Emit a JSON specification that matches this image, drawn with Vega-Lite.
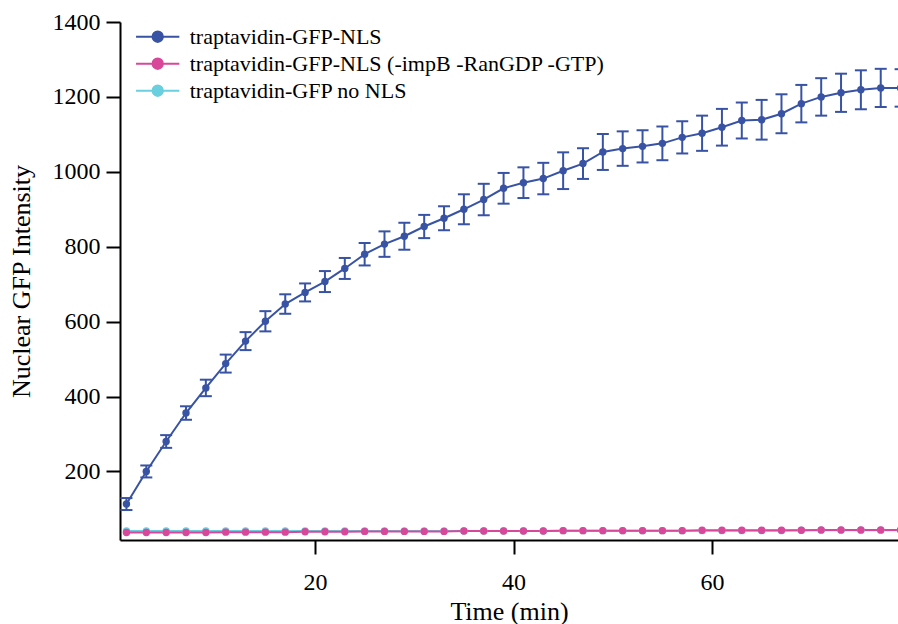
{
  "$schema": "https://vega.github.io/schema/vega-lite/v6.json",
  "autosize": {"type": "none"},
  "padding": {"left": 120, "top": 22, "right": 0, "bottom": 84},
  "width": 778,
  "height": 518,
  "background": "white",
  "config": {
    "font": "Liberation Serif",
    "view": {"stroke": null},
    "axis": {
      "grid": false,
      "domainColor": "#000000",
      "domainWidth": 2,
      "tickColor": "#000000",
      "tickWidth": 2,
      "tickSize": 14,
      "labelColor": "#000000",
      "labelFont": "Liberation Serif",
      "labelFontSize": 24,
      "titleColor": "#000000",
      "titleFont": "Liberation Serif",
      "titleFontSize": 26,
      "titleFontWeight": "normal"
    }
  },
  "data": {
    "values": [
      {"t": 1, "series": "traptavidin-GFP-NLS", "mean": 113, "lo": 97, "hi": 129},
      {"t": 3, "series": "traptavidin-GFP-NLS", "mean": 200, "lo": 184, "hi": 216},
      {"t": 5, "series": "traptavidin-GFP-NLS", "mean": 280, "lo": 263, "hi": 297},
      {"t": 7, "series": "traptavidin-GFP-NLS", "mean": 356, "lo": 338, "hi": 374},
      {"t": 9, "series": "traptavidin-GFP-NLS", "mean": 423, "lo": 401, "hi": 445},
      {"t": 11, "series": "traptavidin-GFP-NLS", "mean": 488, "lo": 464, "hi": 512},
      {"t": 13, "series": "traptavidin-GFP-NLS", "mean": 548, "lo": 524, "hi": 572},
      {"t": 15, "series": "traptavidin-GFP-NLS", "mean": 601, "lo": 574, "hi": 628},
      {"t": 17, "series": "traptavidin-GFP-NLS", "mean": 647, "lo": 621, "hi": 673},
      {"t": 19, "series": "traptavidin-GFP-NLS", "mean": 678, "lo": 654, "hi": 702},
      {"t": 21, "series": "traptavidin-GFP-NLS", "mean": 707, "lo": 679, "hi": 735},
      {"t": 23, "series": "traptavidin-GFP-NLS", "mean": 742, "lo": 714, "hi": 770},
      {"t": 25, "series": "traptavidin-GFP-NLS", "mean": 780, "lo": 750, "hi": 810},
      {"t": 27, "series": "traptavidin-GFP-NLS", "mean": 807, "lo": 773, "hi": 841},
      {"t": 29, "series": "traptavidin-GFP-NLS", "mean": 828, "lo": 792, "hi": 864},
      {"t": 31, "series": "traptavidin-GFP-NLS", "mean": 854, "lo": 823, "hi": 885},
      {"t": 33, "series": "traptavidin-GFP-NLS", "mean": 876, "lo": 844, "hi": 908},
      {"t": 35, "series": "traptavidin-GFP-NLS", "mean": 900, "lo": 860, "hi": 940},
      {"t": 37, "series": "traptavidin-GFP-NLS", "mean": 926, "lo": 884, "hi": 968},
      {"t": 39, "series": "traptavidin-GFP-NLS", "mean": 956, "lo": 915, "hi": 997},
      {"t": 41, "series": "traptavidin-GFP-NLS", "mean": 971, "lo": 930, "hi": 1012},
      {"t": 43, "series": "traptavidin-GFP-NLS", "mean": 982, "lo": 940, "hi": 1024},
      {"t": 45, "series": "traptavidin-GFP-NLS", "mean": 1003, "lo": 954, "hi": 1052},
      {"t": 47, "series": "traptavidin-GFP-NLS", "mean": 1022, "lo": 981, "hi": 1063},
      {"t": 49, "series": "traptavidin-GFP-NLS", "mean": 1053, "lo": 1005, "hi": 1101},
      {"t": 51, "series": "traptavidin-GFP-NLS", "mean": 1062, "lo": 1016, "hi": 1108},
      {"t": 53, "series": "traptavidin-GFP-NLS", "mean": 1068, "lo": 1025, "hi": 1111},
      {"t": 55, "series": "traptavidin-GFP-NLS", "mean": 1076, "lo": 1031, "hi": 1121},
      {"t": 57, "series": "traptavidin-GFP-NLS", "mean": 1092, "lo": 1049, "hi": 1135},
      {"t": 59, "series": "traptavidin-GFP-NLS", "mean": 1103, "lo": 1056, "hi": 1150},
      {"t": 61, "series": "traptavidin-GFP-NLS", "mean": 1119, "lo": 1070, "hi": 1168},
      {"t": 63, "series": "traptavidin-GFP-NLS", "mean": 1137, "lo": 1089, "hi": 1185},
      {"t": 65, "series": "traptavidin-GFP-NLS", "mean": 1139, "lo": 1086, "hi": 1192},
      {"t": 67, "series": "traptavidin-GFP-NLS", "mean": 1155, "lo": 1103, "hi": 1207},
      {"t": 69, "series": "traptavidin-GFP-NLS", "mean": 1182, "lo": 1132, "hi": 1232},
      {"t": 71, "series": "traptavidin-GFP-NLS", "mean": 1200, "lo": 1150, "hi": 1250},
      {"t": 73, "series": "traptavidin-GFP-NLS", "mean": 1211, "lo": 1160, "hi": 1262},
      {"t": 75, "series": "traptavidin-GFP-NLS", "mean": 1219, "lo": 1167, "hi": 1271},
      {"t": 77, "series": "traptavidin-GFP-NLS", "mean": 1224, "lo": 1173, "hi": 1275},
      {"t": 79, "series": "traptavidin-GFP-NLS", "mean": 1224, "lo": 1174, "hi": 1274},

      {"t": 1, "series": "traptavidin-GFP no NLS", "mean": 41},
      {"t": 3, "series": "traptavidin-GFP no NLS", "mean": 41},
      {"t": 5, "series": "traptavidin-GFP no NLS", "mean": 41},
      {"t": 7, "series": "traptavidin-GFP no NLS", "mean": 41},
      {"t": 9, "series": "traptavidin-GFP no NLS", "mean": 41},
      {"t": 11, "series": "traptavidin-GFP no NLS", "mean": 41},
      {"t": 13, "series": "traptavidin-GFP no NLS", "mean": 41},
      {"t": 15, "series": "traptavidin-GFP no NLS", "mean": 41},
      {"t": 17, "series": "traptavidin-GFP no NLS", "mean": 41},
      {"t": 19, "series": "traptavidin-GFP no NLS", "mean": 41},
      {"t": 21, "series": "traptavidin-GFP no NLS", "mean": 41},
      {"t": 23, "series": "traptavidin-GFP no NLS", "mean": 41},
      {"t": 25, "series": "traptavidin-GFP no NLS", "mean": 41},
      {"t": 27, "series": "traptavidin-GFP no NLS", "mean": 41},
      {"t": 29, "series": "traptavidin-GFP no NLS", "mean": 41},
      {"t": 31, "series": "traptavidin-GFP no NLS", "mean": 41},
      {"t": 33, "series": "traptavidin-GFP no NLS", "mean": 41},
      {"t": 35, "series": "traptavidin-GFP no NLS", "mean": 41},
      {"t": 37, "series": "traptavidin-GFP no NLS", "mean": 41},
      {"t": 39, "series": "traptavidin-GFP no NLS", "mean": 41},
      {"t": 41, "series": "traptavidin-GFP no NLS", "mean": 41},
      {"t": 43, "series": "traptavidin-GFP no NLS", "mean": 41},
      {"t": 45, "series": "traptavidin-GFP no NLS", "mean": 42},
      {"t": 47, "series": "traptavidin-GFP no NLS", "mean": 42},
      {"t": 49, "series": "traptavidin-GFP no NLS", "mean": 42},
      {"t": 51, "series": "traptavidin-GFP no NLS", "mean": 42},
      {"t": 53, "series": "traptavidin-GFP no NLS", "mean": 42},
      {"t": 55, "series": "traptavidin-GFP no NLS", "mean": 42},
      {"t": 57, "series": "traptavidin-GFP no NLS", "mean": 42},
      {"t": 59, "series": "traptavidin-GFP no NLS", "mean": 42},
      {"t": 61, "series": "traptavidin-GFP no NLS", "mean": 42},
      {"t": 63, "series": "traptavidin-GFP no NLS", "mean": 42},
      {"t": 65, "series": "traptavidin-GFP no NLS", "mean": 42},
      {"t": 67, "series": "traptavidin-GFP no NLS", "mean": 42},
      {"t": 69, "series": "traptavidin-GFP no NLS", "mean": 43},
      {"t": 71, "series": "traptavidin-GFP no NLS", "mean": 43},
      {"t": 73, "series": "traptavidin-GFP no NLS", "mean": 43},
      {"t": 75, "series": "traptavidin-GFP no NLS", "mean": 43},
      {"t": 77, "series": "traptavidin-GFP no NLS", "mean": 43},
      {"t": 79, "series": "traptavidin-GFP no NLS", "mean": 43},

      {"t": 1, "series": "traptavidin-GFP-NLS (-impB -RanGDP -GTP)", "mean": 37},
      {"t": 3, "series": "traptavidin-GFP-NLS (-impB -RanGDP -GTP)", "mean": 37},
      {"t": 5, "series": "traptavidin-GFP-NLS (-impB -RanGDP -GTP)", "mean": 37},
      {"t": 7, "series": "traptavidin-GFP-NLS (-impB -RanGDP -GTP)", "mean": 37},
      {"t": 9, "series": "traptavidin-GFP-NLS (-impB -RanGDP -GTP)", "mean": 37},
      {"t": 11, "series": "traptavidin-GFP-NLS (-impB -RanGDP -GTP)", "mean": 38},
      {"t": 13, "series": "traptavidin-GFP-NLS (-impB -RanGDP -GTP)", "mean": 38},
      {"t": 15, "series": "traptavidin-GFP-NLS (-impB -RanGDP -GTP)", "mean": 38},
      {"t": 17, "series": "traptavidin-GFP-NLS (-impB -RanGDP -GTP)", "mean": 38},
      {"t": 19, "series": "traptavidin-GFP-NLS (-impB -RanGDP -GTP)", "mean": 39},
      {"t": 21, "series": "traptavidin-GFP-NLS (-impB -RanGDP -GTP)", "mean": 39},
      {"t": 23, "series": "traptavidin-GFP-NLS (-impB -RanGDP -GTP)", "mean": 39},
      {"t": 25, "series": "traptavidin-GFP-NLS (-impB -RanGDP -GTP)", "mean": 40},
      {"t": 27, "series": "traptavidin-GFP-NLS (-impB -RanGDP -GTP)", "mean": 40},
      {"t": 29, "series": "traptavidin-GFP-NLS (-impB -RanGDP -GTP)", "mean": 40},
      {"t": 31, "series": "traptavidin-GFP-NLS (-impB -RanGDP -GTP)", "mean": 40},
      {"t": 33, "series": "traptavidin-GFP-NLS (-impB -RanGDP -GTP)", "mean": 40},
      {"t": 35, "series": "traptavidin-GFP-NLS (-impB -RanGDP -GTP)", "mean": 41},
      {"t": 37, "series": "traptavidin-GFP-NLS (-impB -RanGDP -GTP)", "mean": 41},
      {"t": 39, "series": "traptavidin-GFP-NLS (-impB -RanGDP -GTP)", "mean": 41},
      {"t": 41, "series": "traptavidin-GFP-NLS (-impB -RanGDP -GTP)", "mean": 41},
      {"t": 43, "series": "traptavidin-GFP-NLS (-impB -RanGDP -GTP)", "mean": 41},
      {"t": 45, "series": "traptavidin-GFP-NLS (-impB -RanGDP -GTP)", "mean": 42},
      {"t": 47, "series": "traptavidin-GFP-NLS (-impB -RanGDP -GTP)", "mean": 42},
      {"t": 49, "series": "traptavidin-GFP-NLS (-impB -RanGDP -GTP)", "mean": 42},
      {"t": 51, "series": "traptavidin-GFP-NLS (-impB -RanGDP -GTP)", "mean": 42},
      {"t": 53, "series": "traptavidin-GFP-NLS (-impB -RanGDP -GTP)", "mean": 42},
      {"t": 55, "series": "traptavidin-GFP-NLS (-impB -RanGDP -GTP)", "mean": 42},
      {"t": 57, "series": "traptavidin-GFP-NLS (-impB -RanGDP -GTP)", "mean": 42},
      {"t": 59, "series": "traptavidin-GFP-NLS (-impB -RanGDP -GTP)", "mean": 43},
      {"t": 61, "series": "traptavidin-GFP-NLS (-impB -RanGDP -GTP)", "mean": 43},
      {"t": 63, "series": "traptavidin-GFP-NLS (-impB -RanGDP -GTP)", "mean": 43},
      {"t": 65, "series": "traptavidin-GFP-NLS (-impB -RanGDP -GTP)", "mean": 43},
      {"t": 67, "series": "traptavidin-GFP-NLS (-impB -RanGDP -GTP)", "mean": 43},
      {"t": 69, "series": "traptavidin-GFP-NLS (-impB -RanGDP -GTP)", "mean": 43},
      {"t": 71, "series": "traptavidin-GFP-NLS (-impB -RanGDP -GTP)", "mean": 44},
      {"t": 73, "series": "traptavidin-GFP-NLS (-impB -RanGDP -GTP)", "mean": 44},
      {"t": 75, "series": "traptavidin-GFP-NLS (-impB -RanGDP -GTP)", "mean": 44},
      {"t": 77, "series": "traptavidin-GFP-NLS (-impB -RanGDP -GTP)", "mean": 44},
      {"t": 79, "series": "traptavidin-GFP-NLS (-impB -RanGDP -GTP)", "mean": 44}
    ]
  },
  "encoding": {
    "x": {
      "field": "t",
      "type": "quantitative",
      "title": "Time (min)",
      "scale": {"domain": [0.35, 78.74], "nice": false, "zero": false},
      "axis": {"values": [20, 40, 60], "format": "d", "labelFontSize": 24, "titleFontSize": 26, "labelPadding": 16, "titlePadding": 4}
    }
  },
  "layer": [
    {
      "transform": [{"filter": "datum.series === 'traptavidin-GFP-NLS'"}],
      "mark": {
        "type": "errorbar",
        "color": "#3953A4",
        "thickness": 2,
        "opacity": 1,
        "ticks": {"size": 12, "thickness": 2, "color": "#3953A4", "opacity": 1},
        "rule": {"strokeWidth": 2, "color": "#3953A4", "opacity": 1},
        "clip": true
      },
      "encoding": {
        "y": {"field": "lo", "type": "quantitative", "title": "Nuclear GFP Intensity"},
        "y2": {"field": "hi"}
      }
    },
    {
      "mark": {"type": "line", "strokeWidth": 2, "clip": true},
      "encoding": {
        "y": {
          "field": "mean",
          "type": "quantitative",
          "title": "Nuclear GFP Intensity",
          "scale": {"domain": [17, 1400], "nice": false, "zero": false},
          "axis": {"values": [200, 400, 600, 800, 1000, 1200, 1400], "format": "d", "labelFontSize": 24, "titleFontSize": 26, "labelPadding": 6, "titlePadding": 18}
        },
        "color": {
          "field": "series",
          "type": "nominal",
          "scale": {
            "domain": ["traptavidin-GFP-NLS", "traptavidin-GFP-NLS (-impB -RanGDP -GTP)", "traptavidin-GFP no NLS"],
            "range": ["#3953A4", "#D8479A", "#6ACFDE"]
          },
          "legend": {
            "title": null,
            "orient": "none",
            "legendX": 14.7,
            "legendY": 1.2,
            "padding": 0,
            "rowPadding": 0,
            "clipHeight": 27,
            "labelFont": "Liberation Serif",
            "labelFontSize": 22,
            "labelLimit": 600,
            "labelColor": "#000000",
            "labelOffset": 9,
            "symbolType": "M-1,0H1M0.24,0A0.24,0.24,0,1,1,-0.24,0A0.24,0.24,0,1,1,0.24,0Z",
            "symbolSize": 1875,
            "symbolStrokeWidth": 2,
            "symbolOpacity": 1,
            "encode": {
              "symbols": {
                "update": {
                  "fill": {"scale": "color", "field": "value"},
                  "stroke": {"scale": "color", "field": "value"},
                  "strokeWidth": {"value": 2},
                  "opacity": {"value": 1}
                }
              }
            }
          }
        },
        "order": {"field": "t"}
      }
    },
    {
      "mark": {"type": "point", "filled": true, "size": 55, "opacity": 1, "clip": true},
      "encoding": {
        "y": {"field": "mean", "type": "quantitative"},
        "color": {"field": "series", "type": "nominal"}
      }
    }
  ]
}
